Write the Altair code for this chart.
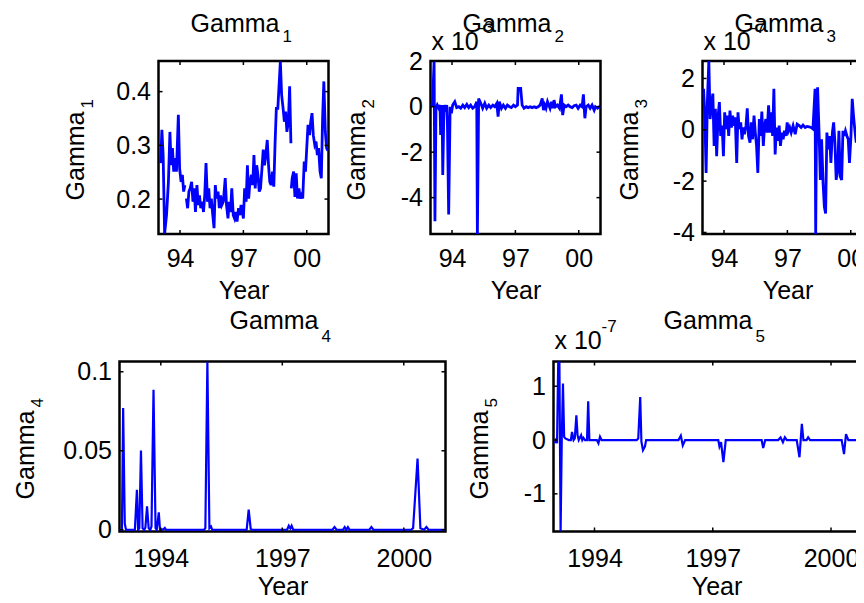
import altair as alt
import pandas as pd

FONT = "Liberation Sans"
BLUE = "#0000ff"
FS = 25      # main font size
FS_SMALL = 17  # sub/superscripts

# ---------------- data ----------------
# Gamma_1 : three segments (gaps in the series)
g1_seg_a_year = [1993.08, 1993.14, 1993.20, 1993.27, 1993.36, 1993.45, 1993.52, 1993.58, 1993.64,
                 1993.70, 1993.77, 1993.83, 1993.92, 1993.98, 1994.05, 1994.11, 1994.17, 1994.23]
g1_seg_a_val = [0.267, 0.329, 0.282, 0.136, 0.170, 0.232, 0.325, 0.263, 0.295,
                0.251, 0.276, 0.251, 0.357, 0.257, 0.232, 0.245, 0.214, 0.226]
g1_seg_b_year = [1994.30, 1994.36, 1994.42, 1994.48, 1994.55, 1994.61, 1994.67, 1994.73, 1994.80,
                 1994.86, 1994.92, 1994.98, 1995.05, 1995.11, 1995.17, 1995.23, 1995.30, 1995.36,
                 1995.42, 1995.48, 1995.55, 1995.61, 1995.67, 1995.73, 1995.80, 1995.86, 1995.92,
                 1995.98, 1996.05, 1996.14, 1996.20, 1996.27, 1996.33, 1996.39, 1996.45, 1996.52,
                 1996.58, 1996.64, 1996.70, 1996.77, 1996.83, 1996.89, 1996.95, 1997.00, 1997.06,
                 1997.13, 1997.19, 1997.25, 1997.31, 1997.38, 1997.44, 1997.50, 1997.56, 1997.63,
                 1997.69, 1997.75, 1997.81, 1997.88, 1997.94, 1998.00, 1998.06, 1998.13, 1998.19,
                 1998.25, 1998.31, 1998.38, 1998.44, 1998.50, 1998.56, 1998.63, 1998.69, 1998.75,
                 1998.81, 1998.88, 1998.94, 1999.00, 1999.06, 1999.13, 1999.19, 1999.25]
g1_seg_b_val = [0.201, 0.183, 0.214, 0.220, 0.232, 0.195, 0.220, 0.176, 0.226,
                0.189, 0.207, 0.183, 0.195, 0.176, 0.207, 0.267, 0.195, 0.220,
                0.183, 0.201, 0.170, 0.146, 0.226, 0.201, 0.214, 0.183, 0.207,
                0.189, 0.195, 0.239, 0.189, 0.164, 0.195, 0.176, 0.220, 0.170,
                0.164, 0.176, 0.158, 0.183, 0.170, 0.189, 0.176, 0.164, 0.220,
                0.195, 0.263, 0.201, 0.232, 0.245, 0.226, 0.282, 0.220, 0.263,
                0.245, 0.214, 0.220, 0.257, 0.292, 0.263, 0.282, 0.310, 0.263,
                0.232, 0.226, 0.251, 0.223, 0.304, 0.369, 0.369, 0.412, 0.456,
                0.394, 0.369, 0.344, 0.363, 0.325, 0.344, 0.410, 0.304]
g1_seg_c_year = [1999.27, 1999.31, 1999.38, 1999.44, 1999.50, 1999.56, 1999.63, 1999.69, 1999.75,
                 1999.81, 1999.88, 1999.94, 2000.00, 2000.06, 2000.13, 2000.19, 2000.25, 2000.31,
                 2000.38, 2000.44, 2000.50, 2000.56, 2000.63, 2000.69, 2000.75, 2000.81, 2000.88,
                 2000.94, 2001.00]
g1_seg_c_val = [0.220, 0.239, 0.251, 0.204, 0.248, 0.201, 0.220, 0.201, 0.207,
                0.201, 0.270, 0.251, 0.295, 0.338, 0.319, 0.344, 0.360, 0.319,
                0.301, 0.307, 0.282, 0.295, 0.251, 0.239, 0.350, 0.419, 0.325,
                0.295, 0.290]

# Gamma_2 (values in units of 1e-3)
g2_year = [1993.02, 1993.08, 1993.15, 1993.19, 1993.24, 1993.30, 1993.37, 1993.43, 1993.46, 1993.53,
           1993.56, 1993.62, 1993.68, 1993.75, 1993.78, 1993.84, 1993.91, 1993.97, 1994.03, 1994.13,
           1994.22, 1994.32, 1994.41, 1994.51, 1994.60, 1994.70, 1994.79, 1994.88, 1994.98, 1995.07,
           1995.17, 1995.20, 1995.26, 1995.36, 1995.45, 1995.55, 1995.64, 1995.74, 1995.83, 1995.93,
           1996.02, 1996.12, 1996.18, 1996.24, 1996.34, 1996.43, 1996.53, 1996.62, 1996.72, 1996.81,
           1996.91, 1997.00, 1997.10, 1997.13, 1997.25, 1997.32, 1997.41, 1997.51, 1997.60, 1997.70,
           1997.79, 1997.89, 1997.98, 1998.08, 1998.17, 1998.27, 1998.33, 1998.39, 1998.45, 1998.52,
           1998.58, 1998.64, 1998.71, 1998.77, 1998.83, 1998.90, 1998.99, 1999.09, 1999.18, 1999.24,
           1999.31, 1999.40, 1999.50, 1999.59, 1999.69, 1999.78, 1999.88, 1999.97, 2000.07, 2000.16,
           2000.22, 2000.29, 2000.35, 2000.45, 2000.54, 2000.63, 2000.73, 2000.79, 2000.89, 2000.98,
           2001.03]
g2_val = [0.0, 0.22, 2.01, -5.04, -0.07, 0.07, -0.07, 0.07, -1.24, 0.07,
          -3.0, 0.07, -0.22, 0.07, -0.66, -4.74, 0.0, -0.29, 0.07, 0.22,
          -0.04, 0.0, -0.07, 0.07, -0.04, 0.10, -0.04, 0.07, -0.07, 0.0,
          0.22, -5.6, 0.36, 0.15, -0.07, 0.15, -0.07, 0.07, -0.04, 0.07,
          0.0, 0.15, -0.44, 0.22, -0.07, 0.07, -0.07, 0.07, 0.0, -0.04,
          0.07, 0.0, 0.07, 0.80, 0.80, 0.07, -0.07, 0.0, -0.04, 0.0,
          -0.04, 0.0, -0.04, 0.0, 0.07, 0.36, -0.15, 0.07, -0.07, 0.22,
          0.07, -0.07, 0.22, -0.07, 0.29, 0.0, 0.07, -0.07, 0.54, -0.37,
          0.07, 0.0, 0.07, 0.0, -0.04, 0.04, 0.07, -0.07, 0.07, 0.0,
          0.54, -0.51, 0.0, 0.07, -0.07, 0.07, -0.15, 0.0, -0.07, 0.0,
          -0.04]

# Gamma_3 (values in units of 1e-7)
g3_year = [1993.03, 1993.09, 1993.15, 1993.21, 1993.28, 1993.34, 1993.40, 1993.47, 1993.53, 1993.59,
           1993.65, 1993.72, 1993.78, 1993.84, 1993.91, 1993.97, 1994.03, 1994.09, 1994.16, 1994.22,
           1994.28, 1994.35, 1994.41, 1994.47, 1994.53, 1994.60, 1994.66, 1994.72, 1994.79, 1994.85,
           1994.91, 1994.97, 1995.04, 1995.10, 1995.16, 1995.23, 1995.29, 1995.35, 1995.42, 1995.48,
           1995.54, 1995.60, 1995.67, 1995.73, 1995.79, 1995.86, 1995.92, 1995.98, 1996.04, 1996.11,
           1996.17, 1996.23, 1996.30, 1996.36, 1996.42, 1996.48, 1996.55, 1996.61, 1996.67, 1996.74,
           1996.80, 1996.86, 1996.93, 1996.99, 1997.05, 1997.11, 1997.18, 1997.27, 1997.37, 1997.46,
           1997.56, 1997.65, 1997.74, 1997.84, 1997.93, 1998.03, 1998.12, 1998.21, 1998.31, 1998.34,
           1998.37, 1998.43, 1998.50, 1998.56, 1998.62, 1998.69, 1998.75, 1998.81, 1998.87, 1998.94,
           1999.00, 1999.06, 1999.13, 1999.19, 1999.25, 1999.31, 1999.38, 1999.44, 1999.50, 1999.57,
           1999.63, 1999.69, 1999.75, 1999.82, 1999.88, 1999.94, 2000.01, 2000.07, 2000.13, 2000.19,
           2000.26, 2000.32, 2000.38, 2000.45, 2000.51, 2000.57, 2000.70, 2000.85, 2001.00]
g3_val = [1.60, 0.55, -1.68, 1.08, 2.68, 0.42, 0.95, 1.41, -0.63, 0.82,
          -1.03, 0.55, 1.08, -0.24, 0.16, -1.03, 0.68, 0.03, 0.55, -0.24,
          0.75, 0.09, 0.55, 0.16, 0.49, -1.29, 0.68, 0.03, 0.29, -0.37,
          0.09, -0.17, 0.16, 0.84, -0.24, -0.50, 0.29, -0.37, 0.55, -0.11,
          -0.63, -1.68, 0.42, -0.24, 0.71, -0.63, 0.16, 0.42, -0.11, 0.95,
          -0.11, 0.68, -0.24, 1.60, -0.96, 0.09, -0.43, 0.16, -0.63, -0.11,
          -0.37, -0.04, -0.24, 0.29, -0.04, 0.09, -0.11, 0.16, -0.17, 0.22,
          0.16, 0.09, 0.18, 0.09, 0.13, 0.11, 0.09, 0.03, 1.60, -4.06,
          -0.76, 1.66, -0.11, -1.95, -0.37, -2.08, -3.00, -3.26, -0.11, -0.76,
          -0.24, -1.29, -0.11, 0.29, -0.50, -1.95, -1.55, -0.04, -1.82, -1.95,
          -0.04, -0.24, -0.04, -0.24, -0.37, -1.29, -0.24, 1.21, 0.55, 0.03,
          -0.50, 0.16, -0.11, 0.16, -0.37, 0.42, 0.10, -0.20, 0.05]

# Gamma_4
g4_year = [1992.98, 1993.04, 1993.07, 1993.11, 1993.14, 1993.36, 1993.41, 1993.44, 1993.47, 1993.51,
           1993.55, 1993.59, 1993.62, 1993.66, 1993.70, 1993.74, 1993.77, 1993.82, 1993.87, 1993.90,
           1993.95, 1993.98, 1994.07, 1994.10, 1994.13, 1995.07, 1995.10, 1995.15, 1995.20, 1995.24,
           1995.27, 1996.12, 1996.17, 1996.22, 1996.26, 1997.12, 1997.16, 1997.20, 1997.23, 1997.27,
           1998.24, 1998.29, 1998.34, 1998.50, 1998.54, 1998.58, 1998.62, 1998.66, 1999.15, 1999.20,
           1999.25, 2000.18, 2000.23, 2000.34, 2000.41, 2000.50, 2000.56, 2000.61, 2001.03]
g4_val = [0.0, 0.0, 0.077, 0.004, 0.0, 0.0, 0.0253, 0.0, 0.001, 0.0502,
          0.001, 0.0, 0.0015, 0.0148, 0.001, 0.0, 0.002, 0.0886, 0.001, 0.0,
          0.011, 0.0, 0.0004, 0.0011, 0.0, 0.0, 0.001, 0.1065, 0.001, 0.0021,
          0.0, 0.0, 0.0128, 0.0005, 0.0, 0.0, 0.0025, 0.0008, 0.0025, 0.0,
          0.0, 0.0017, 0.0, 0.0, 0.0017, 0.0, 0.0017, 0.0, 0.0, 0.0017,
          0.0, 0.0, 0.001, 0.045, 0.001, 0.0, 0.0017, 0.0, 0.0]

# Gamma_5 (values in units of 1e-7)
g5_year = [1993.00, 1993.03, 1993.05, 1993.08, 1993.11, 1993.14, 1993.17, 1993.20, 1993.23, 1993.26,
           1993.35, 1993.40, 1993.43, 1993.47, 1993.50, 1993.54, 1993.57, 1993.60, 1993.66, 1993.69,
           1993.72, 1993.76, 1993.81, 1993.84, 1993.87, 1994.06, 1994.10, 1994.14, 1994.18, 1995.07,
           1995.11, 1995.16, 1995.19, 1995.23, 1995.28, 1995.31, 1996.13, 1996.19, 1996.24, 1996.30,
           1997.14, 1997.17, 1997.21, 1997.27, 1997.33, 1998.24, 1998.28, 1998.33, 1998.66, 1998.72,
           1998.78, 1998.83, 1998.88, 1999.13, 1999.20, 1999.26, 1999.30, 1999.38, 1999.42, 1999.47,
           2000.27, 2000.33, 2000.38, 2000.44, 2001.20]
g5_val = [-0.06, 0.03, -0.06, 1.46, 1.45, -1.70, 0.03, 1.05, 0.06, 0.03,
          0.0, 0.0, 0.15, 0.0, 0.03, 0.46, 0.09, 0.0, 0.09, 0.0,
          0.04, 0.0, 0.0, 0.72, 0.0, 0.0, -0.06, 0.06, 0.0, 0.0,
          0.03, 0.80, -0.03, -0.19, -0.12, 0.0, 0.0, 0.08, -0.10, 0.0,
          0.0, -0.12, -0.04, -0.41, 0.0, 0.0, -0.15, 0.0, 0.0, 0.05,
          -0.04, 0.05, 0.0, 0.0, -0.32, 0.30, 0.0, 0.0, 0.05, 0.0,
          0.0, -0.26, 0.11, 0.0, 0.0]

# text and ticks
main_title = "Gamma"
subscripts = ["1", "2", "3", "4", "5"]
x_label = "Year"
exp_base = "x 10"
exponents = {2: "-3", 3: "-7", 5: "-7"}
x_ticks = [1994, 1997, 2000]
y_ticks = {1: [0.2, 0.3, 0.4], 2: [-4, -2, 0, 2], 3: [-4, -2, 0, 2],
           4: [0, 0.05, 0.1], 5: [-1, 0, 1]}
y_domains = {1: [0.135, 0.457], 2: [-5.6, 2.01], 3: [-4.06, 2.68],
             4: [-0.0011, 0.1065], 5: [-1.70, 1.46]}
x_domains = {1: [1992.98, 2001.03], 2: [1992.98, 2001.03], 3: [1992.98, 2001.03],
             4: [1992.98, 2001.03], 5: [1992.96, 2001.23]}


def frame(years, vals, seg=0):
    return pd.DataFrame({"yr": years, "v": vals, "seg": [seg] * len(years)})


g1_df = pd.concat([frame(g1_seg_a_year, g1_seg_a_val, 0),
                   frame(g1_seg_b_year, g1_seg_b_val, 1),
                   frame(g1_seg_c_year, g1_seg_c_val, 2)], ignore_index=True)
data = {1: g1_df, 2: frame(g2_year, g2_val), 3: frame(g3_year, g3_val),
        4: frame(g4_year, g4_val), 5: frame(g5_year, g5_val)}


def txt(s, x, y, size, align="left", angle=0):
    kw = dict(font=FONT, fontSize=size, align=align, baseline="alphabetic", color="black")
    if angle:
        kw["angle"] = angle
    return alt.Chart(pd.DataFrame({"t": [s]})).mark_text(**kw).encode(
        text="t:N", x=alt.value(x), y=alt.value(y))


def panel(i, W, H, top_row, ytitle_x, lw):
    xs = alt.Scale(domain=x_domains[i], nice=False, zero=False)
    ys = alt.Scale(domain=y_domains[i], nice=False, zero=False)
    xlabel = "slice(toString(datum.value), 2)" if top_row else "toString(datum.value)"
    xaxis = alt.Axis(values=x_ticks, labelExpr=xlabel, title=x_label,
                     labelPadding=12 if top_row else 15,
                     titleY=44 if top_row else 43)
    yaxis = alt.Axis(values=y_ticks[i], labelExpr="toString(datum.value)",
                     title=None, labelPadding=8)
    X = alt.X("yr:Q", scale=xs, axis=xaxis)
    Y = alt.Y("v:Q", scale=ys, axis=yaxis)
    line = alt.Chart(data[i]).mark_line(color=BLUE, strokeWidth=lw, clip=True).encode(
        x=X, y=Y, detail="seg:N")
    tl = 4
    xt = pd.DataFrame({"yr": x_ticks})
    yt = pd.DataFrame({"v": y_ticks[i]})
    xb = alt.Chart(xt).mark_rule(color="black", strokeWidth=1.5).encode(
        x=X, y=alt.value(H), y2=alt.value(H - tl))
    xtop = alt.Chart(xt).mark_rule(color="black", strokeWidth=1.5).encode(
        x=X, y=alt.value(0), y2=alt.value(tl))
    yl = alt.Chart(yt).mark_rule(color="black", strokeWidth=1.5).encode(
        y=Y, x=alt.value(0), x2=alt.value(tl))
    yr = alt.Chart(yt).mark_rule(color="black", strokeWidth=1.5).encode(
        y=Y, x=alt.value(W), x2=alt.value(W - tl))

    tb, sb = (-29.5, -19.5) if top_row else (-33, -20)
    layers = [line, xb, xtop, yl, yr,
              txt(main_title, W / 2 + 36, tb, FS, align="right"),
              txt(subscripts[i - 1], W / 2 + 39, sb, FS_SMALL, align="left"),
              txt(main_title, ytitle_x, H / 2 - 36, FS, align="right", angle=270),
              txt(subscripts[i - 1], ytitle_x + 9, H / 2 - 39, FS_SMALL, align="left", angle=270)]
    if i in exponents:
        eb, pb = (-11, -28) if top_row else (-12.2, -29.8)
        layers.append(txt(exp_base, 1, eb, FS, align="left"))
        layers.append(txt(exponents[i], 48, pb, FS_SMALL, align="left"))
    return alt.layer(*layers).properties(width=W, height=H)


def spacer(w):
    return alt.Chart(pd.DataFrame({"t": [""]})).mark_text().encode(text="t:N").properties(
        width=w, height=2, view=alt.ViewBackground(strokeOpacity=0))


WT, HT = 170, 173
WB, HB = 326, 170
p1 = panel(1, WT, HT, True, -74.4, 2.8)
p2 = panel(2, WT, HT, True, -65.7, 2.8)
p3 = panel(3, WT, HT, True, -65.0, 2.8)
p4 = panel(4, WB, HB, False, -86.0, 2.2)
p5 = panel(5, WB, HB, False, -65.5, 2.2)

# spacers shift the rows so the upper row starts further right than the lower one
top = alt.hconcat(spacer(45.2), p1, p2, p3, spacing=102, bounds="flush")
bottom = alt.hconcat(spacer(1), p4, p5, spacing=108, bounds="flush")

# The original figure is wider than the window: keep the canvas at window size
# so the right-hand panels are cut off, as in the reference.
chart = alt.concat(top, bottom, columns=1, spacing=1.5, align="none").properties(
    autosize=alt.AutoSizeParams(type="none"),
    padding={"left": 2.5, "top": 53, "right": 845.5, "bottom": 534},
).configure_view(
    stroke="black", strokeWidth=2.5
).configure_axis(
    labelFont=FONT, labelFontSize=FS, labelColor="black", labelFlush=False,
    titleFont=FONT, titleFontSize=FS, titleFontWeight="normal", titleColor="black",
    domain=False, ticks=False, tickSize=0, grid=False,
)

chart.save("out.html", embed_options={"renderer": "svg", "actions": False})
